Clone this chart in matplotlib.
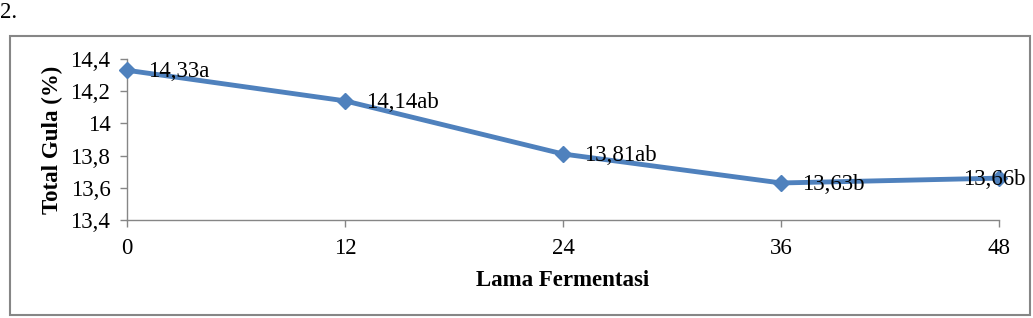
import matplotlib
matplotlib.use("Agg")
import matplotlib.pyplot as plt
from matplotlib.patches import Rectangle
from matplotlib.ticker import FuncFormatter

# data
lama = [0, 12, 24, 36, 48]
total_gula = [14.33, 14.14, 13.81, 13.63, 13.66]
notasi = ["14,33a", "14,14ab", "13,81ab", "13,63b", "13,66b"]
y_ticks = [13.4, 13.6, 13.8, 14.0, 14.2, 14.4]

LINE = "#4F81BD"
GRID = "#868686"
FS = 16.5

plt.rcParams["font.family"] = ["Liberation Serif", "DejaVu Serif"]


def koma(v, pos=None):
    s = f"{v:.1f}".rstrip("0").rstrip(".")
    return s.replace(".", ",")


fig = plt.figure(figsize=(10.33, 3.18), dpi=100)
ax = fig.add_axes([127 / 1033, 98 / 318, 872 / 1033, 161 / 318])

ax.plot(lama, total_gula, color=LINE, lw=3.5, marker="D", ms=8,
        mfc=LINE, mec=LINE, zorder=3, clip_on=False)

for i, (xv, yv, t) in enumerate(zip(lama, total_gula, notasi)):
    dx = -26 if i == len(lama) - 1 else 15
    ax.annotate(t, (xv, yv), xytext=(dx, -1), textcoords="offset points",
                ha="left", va="center", fontsize=FS, zorder=4)

ax.set_xlim(0, 48)
ax.set_ylim(13.4, 14.4)
ax.set_xticks(lama)
ax.set_yticks(y_ticks)
ax.yaxis.set_major_formatter(FuncFormatter(koma))

for side in ["top", "right"]:
    ax.spines[side].set_visible(False)
for side in ["left", "bottom"]:
    ax.spines[side].set_color(GRID)
    ax.spines[side].set_linewidth(1)
ax.tick_params(axis="both", direction="out", length=5, width=1, color=GRID,
               labelsize=FS, pad=7)
ax.tick_params(axis="x", pad=8)

ax.set_xlabel("Lama Fermentasi", fontsize=FS, fontweight="bold", labelpad=8)
ax.set_ylabel("Total Gula (%)", fontsize=FS, fontweight="bold", labelpad=5)

# frame round the chart
fig.patches.append(Rectangle((10 / 1033, 3 / 318), 1020 / 1033, 279 / 318,
                             transform=fig.transFigure, fill=False,
                             edgecolor=GRID, lw=1.5))
fig.text(0.0, 1 - 12 / 318, "2.", fontsize=FS, va="center", ha="left")

fig.savefig("out.png", dpi=100)
